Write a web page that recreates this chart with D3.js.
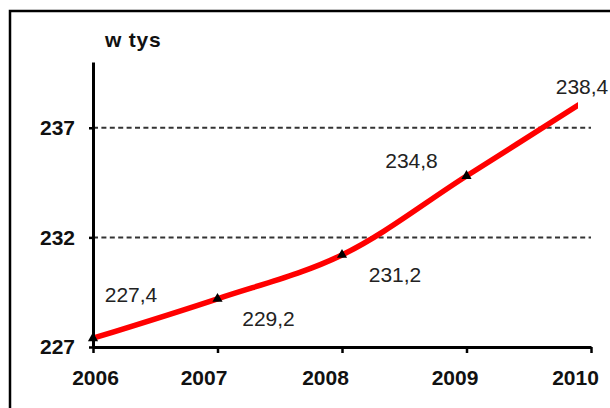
<!DOCTYPE html>
<html>
<head>
<meta charset="utf-8">
<script src="https://cdn.jsdelivr.net/npm/d3@7"></script>
<style>
body { margin: 0; background: #fff; }
svg { display: block; }
</style>
</head>
<body>
<script>
// data
var years = [2006, 2007, 2008, 2009, 2010];
var values = [227.4, 229.2, 231.2, 234.8, 238.4];
var valueLabels = ["227,4", "229,2", "231,2", "234,8", "238,4"];
var yTicks = [227, 232, 237];
var gridValues = [232, 237];
var unitLabel = "w tys";

// where each value label sits relative to its point
var labelOffsets = [[38, -36], [51, 27], [53, 27], [-55, -8], [-9, -3]];
// year labels are not quite centred under their ticks in the original
var yearShift = [2, -14, -17, -12, -16];

var width = 610, height = 408;
var font = "'Liberation Sans', Arial, sans-serif";

var svg = d3.select("body").append("svg")
	.attr("width", width)
	.attr("height", height);

// frame round the chart, runs off the right and bottom edge
svg.append("rect")
	.attr("x", 10).attr("y", 11)
	.attr("width", 640).attr("height", 440)
	.attr("fill", "none")
	.attr("stroke", "#000")
	.attr("stroke-width", 2.5);

var x = d3.scaleLinear().domain([2006, 2010]).range([93, 591]);
var y = d3.scaleLinear().domain([227, 240]).range([347, 62]);

// dashed grid
svg.selectAll("line.grid")
	.data(gridValues)
	.enter().append("line")
	.attr("class", "grid")
	.attr("x1", x(2006)).attr("x2", x(2010))
	.attr("y1", function(d) { return y(d); })
	.attr("y2", function(d) { return y(d); })
	.attr("stroke", "#333")
	.attr("stroke-width", 2)
	.attr("stroke-dasharray", "5,3.4");

// line is cut a bit before the last year, like in the original
svg.append("defs").append("clipPath")
	.attr("id", "plot-clip")
	.append("rect")
	.attr("x", 0).attr("y", 0)
	.attr("width", x(2010) - 13).attr("height", height);

var line = d3.line()
	.x(function(d, i) { return x(years[i]); })
	.y(function(d) { return y(d); })
	.curve(d3.curveCatmullRom.alpha(0.5));

var plot = svg.append("g").attr("clip-path", "url(#plot-clip)");

plot.append("path")
	.datum(values)
	.attr("d", line)
	.attr("fill", "none")
	.attr("stroke", "#ff0000")
	.attr("stroke-width", 5.5)
	.attr("stroke-linejoin", "round");

plot.selectAll("path.marker")
	.data(values)
	.enter().append("path")
	.attr("class", "marker")
	.attr("d", d3.symbol().type(d3.symbolTriangle).size(45))
	.attr("transform", function(d, i) { return "translate(" + x(years[i]) + "," + y(d) + ")"; })
	.attr("fill", "#000");

// axes
var yAxis = svg.append("g")
	.attr("transform", "translate(" + x(2006) + ",0)")
	.call(d3.axisLeft(y).tickValues(yTicks).tickSize(4).tickSizeOuter(0).tickPadding(14));

var xAxis = svg.append("g")
	.attr("transform", "translate(0," + y(227) + ")")
	.call(d3.axisBottom(x).tickValues(years).tickFormat(d3.format("d")).tickSize(6).tickSizeOuter(0).tickPadding(17));

xAxis.selectAll(".tick text")
	.attr("dx", function(d, i) { return yearShift[i]; });

[yAxis, xAxis].forEach(function(g) {
	g.select(".domain").attr("stroke", "#000").attr("stroke-width", 3);
	g.selectAll(".tick line").attr("stroke", "#000").attr("stroke-width", 2.5);
	g.selectAll(".tick text")
		.attr("fill", "#111")
		.style("font-family", font)
		.style("font-size", "21px")
		.style("font-weight", "bold");
});

// value labels
svg.selectAll("text.value")
	.data(values)
	.enter().append("text")
	.attr("class", "value")
	.attr("x", function(d, i) { return x(years[i]) + labelOffsets[i][0]; })
	.attr("y", function(d, i) { return y(d) + labelOffsets[i][1]; })
	.attr("text-anchor", "middle")
	.attr("fill", "#222")
	.style("font-family", font)
	.style("font-size", "21px")
	.text(function(d, i) { return valueLabels[i]; });

svg.append("text")
	.attr("x", 105).attr("y", 47)
	.attr("fill", "#111")
	.style("font-family", font)
	.style("font-size", "21px")
	.style("font-weight", "bold")
	.style("letter-spacing", "0.8px")
	.text(unitLabel);
</script>
</body>
</html>
